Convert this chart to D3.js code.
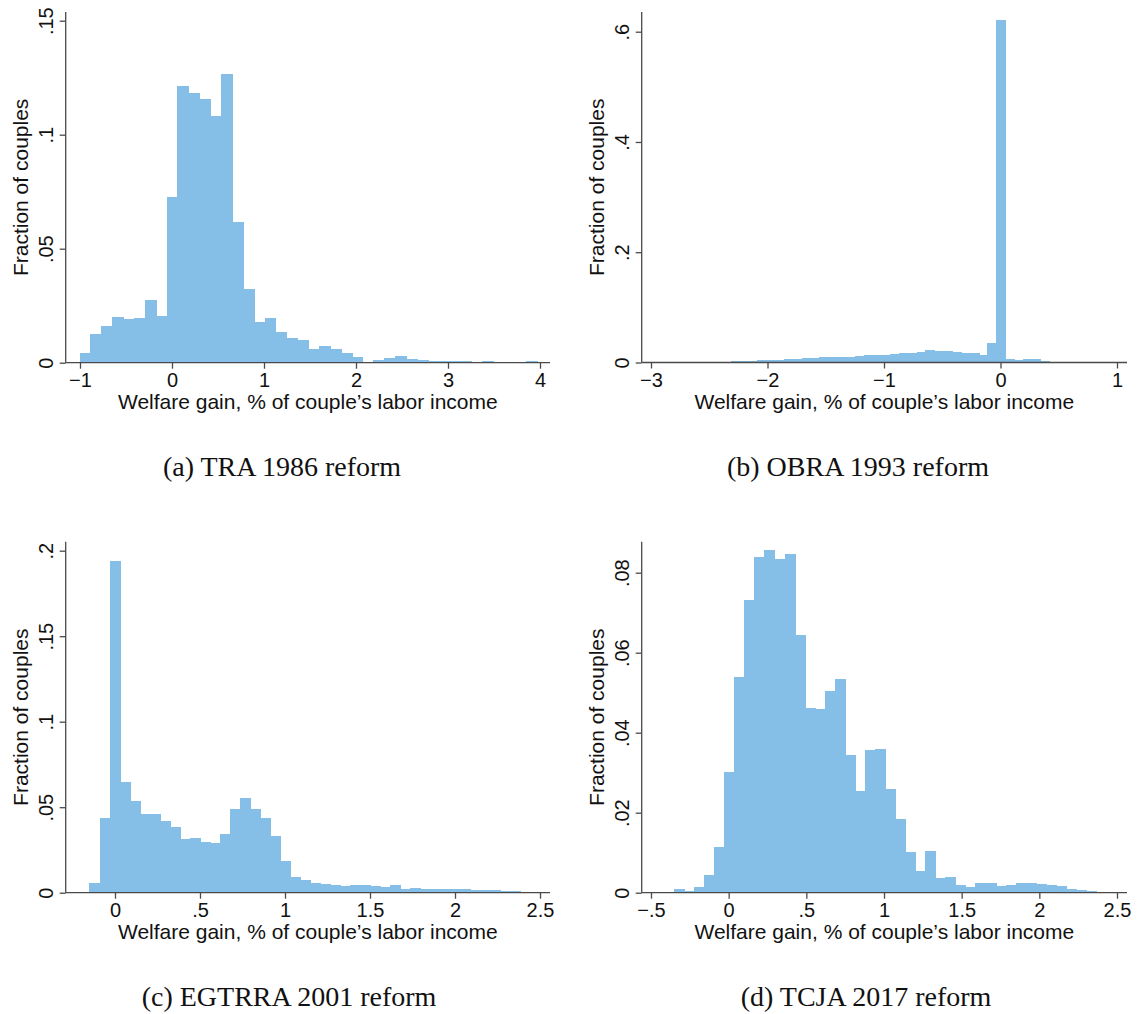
<!DOCTYPE html>
<html>
<head>
<meta charset="utf-8">
<script src="https://cdn.jsdelivr.net/npm/d3@7"></script>
<style>
  html, body { margin: 0; padding: 0; background: #fff; }
  svg { display: block; }
  .tick text { font-family: "Liberation Sans", Arial, sans-serif; font-size: 20px; fill: #111; }
  .axis-title { font-family: "Liberation Sans", Arial, sans-serif; font-size: 21px; fill: #111; }
  .caption { font-family: "Liberation Serif", "Times New Roman", serif; font-size: 28px; fill: #111; }
</style>
</head>
<body>
<svg id="chart" width="1141" height="1014"></svg>
<script>
// bin starts / widths and bar heights (fraction of couples)
const traStart = -1.0;
const traWidth = 0.1183;
const traValues = [
  0.0041, 0.0122, 0.0157, 0.0198, 0.0190, 0.0195, 0.0273, 0.0201, 0.0723, 0.1213,
  0.1180, 0.1155, 0.1079, 0.1265, 0.0615, 0.0322, 0.0175, 0.0195, 0.0134, 0.0108,
  0.0099, 0.0058, 0.0069, 0.0058, 0.0041, 0.0025, 0.0002, 0.0009, 0.0017, 0.0029,
  0.0012, 0.0010, 0.0006, 0.0006, 0.0005, 0.0005, 0.0003, 0.0005, 0.0003, 0.0003,
  0.0003, 0.0005,
];

const obraStart = -2.613;
const obraWidth = 0.0759;
const obraValues = [
  0.0006, 0.0006, 0.0006, 0.0008, 0.0010, 0.0012, 0.0018, 0.0030, 0.0036, 0.0040,
  0.0054, 0.0054, 0.0079, 0.0066, 0.0085, 0.0085, 0.0097, 0.0097, 0.0103, 0.0120,
  0.0120, 0.0133, 0.0145, 0.0163, 0.0163, 0.0175, 0.0212, 0.0206, 0.0206, 0.0181,
  0.0169, 0.0169, 0.0120, 0.0339, 0.6200, 0.0048, 0.0030, 0.0048, 0.0054, 0.0018,
  0.0006,
];

const egtrraStart = -0.206;
const egtrraWidth = 0.0589;
const egtrraValues = [
  0.0004, 0.0051, 0.0432, 0.1938, 0.0646, 0.0531, 0.0457, 0.0459, 0.0418, 0.0381,
  0.0311, 0.0318, 0.0291, 0.0287, 0.0340, 0.0484, 0.0551, 0.0484, 0.0432, 0.0330,
  0.0182, 0.0086, 0.0073, 0.0052, 0.0048, 0.0044, 0.0038, 0.0043, 0.0045, 0.0037,
  0.0029, 0.0041, 0.0021, 0.0027, 0.0016, 0.0021, 0.0018, 0.0016, 0.0016, 0.0014,
  0.0012, 0.0010, 0.0008, 0.0008,
];

const tcjaStart = -0.349;
const tcjaWidth = 0.0647;
const tcjaValues = [
  0.0008, 0.0004, 0.0012, 0.0042, 0.0112, 0.0300, 0.0537, 0.0730, 0.0838, 0.0855,
  0.0833, 0.0846, 0.0644, 0.0461, 0.0457, 0.0503, 0.0533, 0.0343, 0.0254, 0.0356,
  0.0359, 0.0258, 0.0183, 0.0101, 0.0052, 0.0104, 0.0036, 0.0037, 0.0019, 0.0013,
  0.0022, 0.0022, 0.0015, 0.0018, 0.0023, 0.0023, 0.0021, 0.0017, 0.0015, 0.0008,
  0.0006, 0.0003,
];

// tick values and their labels
const traXTicks = [-1, 0, 1, 2, 3, 4];
const traXLabels = ['\u22121', '0', '1', '2', '3', '4'];
const traYTicks = [0, 0.05, 0.1, 0.15];
const traYLabels = ['0', '.05', '.1', '.15'];

const obraXTicks = [-3, -2, -1, 0, 1];
const obraXLabels = ['\u22123', '\u22122', '\u22121', '0', '1'];
const obraYTicks = [0, 0.2, 0.4, 0.6];
const obraYLabels = ['0', '.2', '.4', '.6'];

const egtrraXTicks = [0, 0.5, 1, 1.5, 2, 2.5];
const egtrraXLabels = ['0', '.5', '1', '1.5', '2', '2.5'];
const egtrraYTicks = [0, 0.05, 0.1, 0.15, 0.2];
const egtrraYLabels = ['0', '.05', '.1', '.15', '.2'];

const tcjaXTicks = [-0.5, 0, 0.5, 1, 1.5, 2, 2.5];
const tcjaXLabels = ['\u2212.5', '0', '.5', '1', '1.5', '2', '2.5'];
const tcjaYTicks = [0, 0.02, 0.04, 0.06, 0.08];
const tcjaYLabels = ['0', '.02', '.04', '.06', '.08'];

const captions = ['(a) TRA 1986 reform', '(b) OBRA 1993 reform', '(c) EGTRRA 2001 reform', '(d) TCJA 2017 reform'];

const xTitle = 'Welfare gain, % of couple\u2019s labor income';
const yTitle = 'Fraction of couples';

const barFill = '#85bfe8';
const axisColor = '#4a4a4a';

const svg = d3.select('#chart');

const panels = [
  {
    start: traStart, width: traWidth, values: traValues,
    xTicks: traXTicks, xLabels: traXLabels, yTicks: traYTicks, yLabels: traYLabels,
    xDomain: [-1, 4], xRange: [80, 540], yDomain: [0, 0.15], yRange: [362.7, 20.7],
    axisX: 65.7, axisEnd: 550, axisTop: 12, caption: captions[0], capX: 282, capY: 476,
  },
  {
    start: obraStart, width: obraWidth, values: obraValues,
    xTicks: obraXTicks, xLabels: obraXLabels, yTicks: obraYTicks, yLabels: obraYLabels,
    xDomain: [-3, 1], xRange: [651, 1117], yDomain: [0, 0.6], yRange: [362.5, 31.7],
    axisX: 641.7, axisEnd: 1127, axisTop: 12, caption: captions[1], capX: 858, capY: 476,
  },
  {
    start: egtrraStart, width: egtrraWidth, values: egtrraValues,
    xTicks: egtrraXTicks, xLabels: egtrraXLabels, yTicks: egtrraYTicks, yLabels: egtrraYLabels,
    xDomain: [0, 2.5], xRange: [115, 540], yDomain: [0, 0.2], yRange: [892.7, 550.7],
    axisX: 65.7, axisEnd: 550, axisTop: 541.7, caption: captions[2], capX: 289, capY: 1006,
  },
  {
    start: tcjaStart, width: tcjaWidth, values: tcjaValues,
    xTicks: tcjaXTicks, xLabels: tcjaXLabels, yTicks: tcjaYTicks, yLabels: tcjaYLabels,
    xDomain: [-0.5, 2.5], xRange: [651, 1117], yDomain: [0, 0.08], yRange: [892.7, 572.7],
    axisX: 641.7, axisEnd: 1127, axisTop: 541.7, caption: captions[3], capX: 866, capY: 1006,
  },
];

const drawPanel = (p) => {
  const x = d3.scaleLinear().domain(p.xDomain).range(p.xRange);
  const y = d3.scaleLinear().domain(p.yDomain).range(p.yRange);
  const g = svg.append('g');

  // bars
  g.append('g')
    .attr('shape-rendering', 'crispEdges')
    .selectAll('rect')
    .data(p.values.map((v, i) => ({ x0: p.start + i * p.width, x1: p.start + (i + 1) * p.width, v })))
    .enter()
    .append('rect')
    .attr('x', (d) => x(d.x0))
    .attr('width', (d) => x(d.x1) - x(d.x0))
    .attr('y', (d) => y(d.v))
    .attr('height', (d) => y(0) - y(d.v))
    .attr('fill', barFill)
    .attr('stroke', barFill)
    .attr('stroke-width', 1);

  // x axis
  const xAxis = g.append('g')
    .attr('transform', `translate(0,${y(0)})`)
    .call(d3.axisBottom(x).tickValues(p.xTicks).tickFormat((d, i) => p.xLabels[i]).tickSize(6).tickPadding(5));
  xAxis.select('.domain').remove();
  xAxis.selectAll('.tick line').attr('stroke', axisColor).attr('stroke-width', 1.3);
  xAxis.selectAll('.tick text').attr('dy', '0.71em').attr('y', 10);
  g.append('line')
    .attr('x1', p.axisX).attr('x2', p.axisEnd)
    .attr('y1', y(0)).attr('y2', y(0))
    .attr('stroke', axisColor).attr('stroke-width', 1.3);

  // y axis
  const yAxis = g.append('g')
    .attr('transform', `translate(${p.axisX},0)`)
    .call(d3.axisLeft(y).tickValues(p.yTicks).tickFormat((d, i) => p.yLabels[i]).tickSize(6));
  yAxis.select('.domain').remove();
  yAxis.selectAll('.tick line').attr('stroke', axisColor).attr('stroke-width', 1.3);
  yAxis.selectAll('.tick text')
    .attr('transform', 'rotate(-90)')
    .attr('x', 0)
    .attr('y', -13)
    .attr('dy', 0)
    .attr('text-anchor', 'middle');
  g.append('line')
    .attr('x1', p.axisX).attr('x2', p.axisX)
    .attr('y1', y(0)).attr('y2', p.axisTop)
    .attr('stroke', axisColor).attr('stroke-width', 1.3);

  // titles
  g.append('text')
    .attr('class', 'axis-title')
    .attr('x', (p.axisX + p.axisEnd) / 2)
    .attr('y', y(0) + 46.5)
    .attr('text-anchor', 'middle')
    .text(xTitle);
  g.append('text')
    .attr('class', 'axis-title')
    .attr('transform', `translate(${p.axisX - 38},${(y(0) + p.axisTop) / 2}) rotate(-90)`)
    .attr('text-anchor', 'middle')
    .text(yTitle);

  g.append('text')
    .attr('class', 'caption')
    .attr('x', p.capX)
    .attr('y', p.capY)
    .attr('text-anchor', 'middle')
    .text(p.caption);
};

panels.forEach(drawPanel);
</script>
</body>
</html>
